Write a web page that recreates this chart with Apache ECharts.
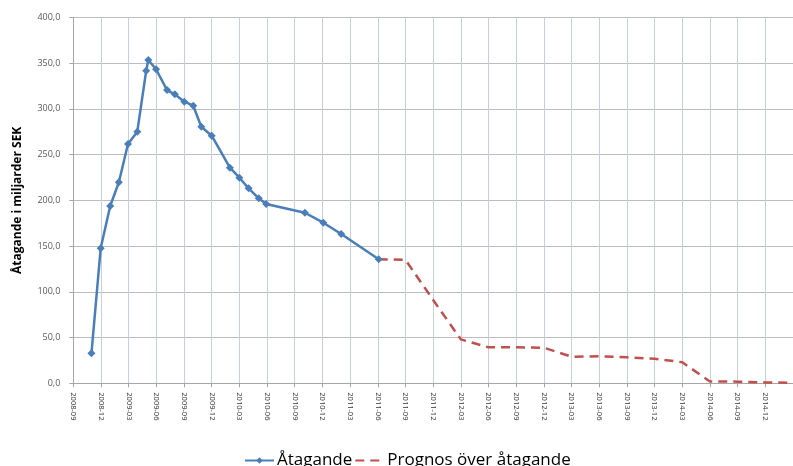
<!DOCTYPE html>
<html>
<head>
<meta charset="utf-8">
<script src="https://cdn.jsdelivr.net/npm/echarts@6/dist/echarts.min.js"></script>
<style>
  html, body { margin: 0; padding: 0; background: #ffffff; }
  #chart { width: 793px; height: 466px; }
</style>
</head>
<body>
<div id="chart"></div>
<script>
// Reported commitments (billion SEK) by reporting date
const actualDates = [
  '2008-10-31', '2008-11-30', '2009-01-01', '2009-01-30', '2009-02-27', '2009-03-30',
  '2009-04-28', '2009-05-05', '2009-05-31', '2009-07-06', '2009-08-01', '2009-09-02',
  '2009-10-01', '2009-10-28', '2009-12-01', '2010-01-31', '2010-03-01', '2010-04-01',
  '2010-05-04', '2010-05-29', '2010-10-04', '2010-12-04', '2011-02-02', '2011-06-04'
];
const actualValues = [
  32.8, 147.5, 193.8, 219.7, 261.5, 275.0,
  341.6, 353.3, 343.2, 320.5, 315.8, 307.8,
  303.4, 280.4, 270.6, 235.6, 224.7, 213.1,
  202.2, 196.0, 186.4, 175.5, 163.2, 135.6
];

// Forecast of the commitments, quarterly
const forecastDates = [
  '2011-06-04', '2011-09-01', '2011-12-01', '2012-03-01', '2012-06-01', '2012-09-01',
  '2012-12-01', '2013-03-01', '2013-06-01', '2013-09-01', '2013-12-01', '2014-03-01',
  '2014-06-01', '2014-09-01', '2014-12-01', '2015-03-01'
];
const forecastValues = [
  135.6, 135.0, 91.0, 48.0, 39.3, 39.3,
  38.9, 29.1, 29.5, 28.4, 26.9, 23.0,
  2.0, 1.8, 1.0, 0.5
];

// Quarter labels along the time axis, starting at 2008-09
const quarterLabels = [
  '2008-09', '2008-12', '2009-03', '2009-06', '2009-09', '2009-12',
  '2010-03', '2010-06', '2010-09', '2010-12', '2011-03', '2011-06',
  '2011-09', '2011-12', '2012-03', '2012-06', '2012-09', '2012-12',
  '2013-03', '2013-06', '2013-09', '2013-12', '2014-03', '2014-06',
  '2014-09', '2014-12'
];

const seriesNames = ['Åtagande', 'Prognos över åtagande'];

// Position on the x axis: months elapsed since 2008-09-01
function monthIndex(dateStr) {
  const [y, m, d] = dateStr.split('-').map(Number);
  const daysInMonth = new Date(y, m, 0).getDate();
  return (y - 2008) * 12 + (m - 9) + (d - 1) / daysInMonth;
}
const toPoints = (dates, values) => dates.map((d, i) => [monthIndex(d), values[i]]);

const chart = echarts.init(document.getElementById('chart'), null, { renderer: 'canvas' });

const labelFont = '"Open Sans", "Liberation Sans", sans-serif';

chart.setOption({
  backgroundColor: '#ffffff',
  animation: false,
  grid: { left: 73.3, top: 17.3, width: 724.5, height: 366, containLabel: false },
  legend: {
    data: [
      seriesNames[0],
      { name: seriesNames[1], itemStyle: { opacity: 0 } }
    ],
    left: 244,
    top: 452,
    padding: 0,
    itemWidth: 29,
    itemHeight: 8,
    itemGap: 2,
    textStyle: { fontFamily: labelFont, fontSize: 17, color: '#000000', padding: [0, 0, 0, -2] }
  },
  xAxis: {
    type: 'value',
    min: 0,
    max: 78,
    interval: 3,
    axisLine: { show: true, lineStyle: { color: '#a6a6a6', width: 1 } },
    axisTick: { show: true, length: 4, lineStyle: { color: '#a6a6a6' } },
    axisLabel: {
      rotate: -90,
      margin: 9,
      fontFamily: labelFont,
      fontSize: 7.5,
      color: '#333333',
      showMaxLabel: false,
      formatter: v => quarterLabels[Math.round(v / 3)] || ''
    },
    splitLine: { show: true, lineStyle: { color: '#c4cfe1', width: 1 } }
  },
  yAxis: {
    type: 'value',
    min: 0,
    max: 400,
    interval: 50,
    name: 'Åtagande i miljarder SEK',
    nameLocation: 'middle',
    nameRotate: 90,
    nameGap: 50,
    nameTextStyle: { fontFamily: labelFont, fontSize: 12, fontWeight: 'bold', color: '#000000' },
    axisLine: { show: true, lineStyle: { color: '#a6a6a6', width: 1 } },
    axisTick: { show: true, length: 4, lineStyle: { color: '#a6a6a6' } },
    axisLabel: {
      margin: 13,
      fontFamily: labelFont,
      fontSize: 9,
      color: '#595959',
      formatter: v => v.toFixed(1).replace('.', ',')
    },
    splitLine: { show: true, lineStyle: { color: '#bdbdbd', width: 1 } }
  },
  series: [
    {
      name: seriesNames[0],
      type: 'line',
      data: toPoints(actualDates, actualValues),
      symbol: 'diamond',
      symbolSize: 8,
      showAllSymbol: true,
      lineStyle: { color: '#4a7ebb', width: 2.5 },
      itemStyle: { color: '#4a7ebb' },
      z: 3
    },
    {
      name: seriesNames[1],
      type: 'line',
      data: toPoints(forecastDates, forecastValues),
      symbol: 'none',
      lineStyle: { color: '#c0504d', width: 2.5, type: [9, 6] },
      itemStyle: { color: '#c0504d' },
      z: 2
    }
  ]
});
</script>
</body>
</html>
